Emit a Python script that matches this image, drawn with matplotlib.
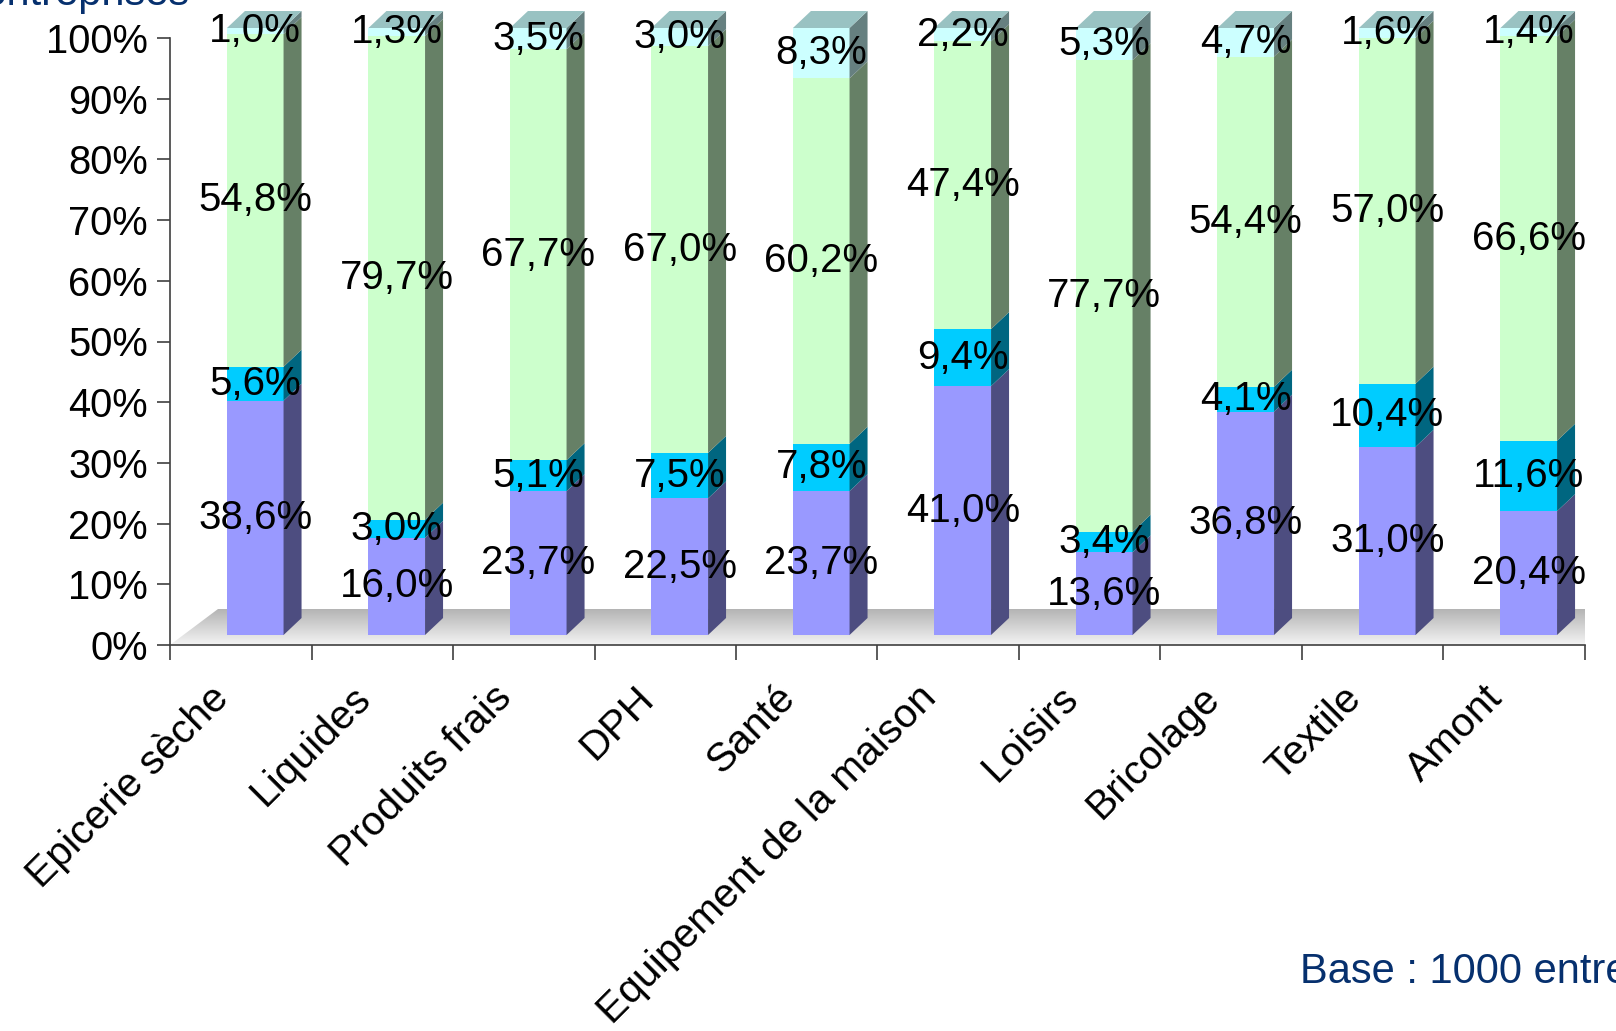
import numpy as np
import matplotlib
matplotlib.use("Agg")
import matplotlib.pyplot as plt
from matplotlib.patches import Polygon
from matplotlib.transforms import ScaledTranslation
from matplotlib.colors import LinearSegmentedColormap

plt.rcParams['font.family'] = ['Liberation Sans', 'DejaVu Sans']

# données (en %), de bas en haut de chaque barre
categories = ['Epicerie sèche', 'Liquides', 'Produits frais', 'DPH', 'Santé',
              'Equipement de la maison', 'Loisirs', 'Bricolage', 'Textile', 'Amont']
serie_1 = [38.6, 16.0, 23.7, 22.5, 23.7, 41.0, 13.6, 36.8, 31.0, 20.4]
serie_2 = [5.6, 3.0, 5.1, 7.5, 7.8, 9.4, 3.4, 4.1, 10.4, 11.6]
serie_3 = [54.8, 79.7, 67.7, 67.0, 60.2, 47.4, 77.7, 54.4, 57.0, 66.6]
serie_4 = [1.0, 1.3, 3.5, 3.0, 8.3, 2.2, 5.3, 4.7, 1.6, 1.4]
yticks = list(range(0, 101, 10))
ytick_labels = ['%d%%' % v for v in yticks]

front = ['#9999ff', '#00ccff', '#ccffcc', '#ccffff']
side = ['#4d4d80', '#006680', '#668066', '#668080']
top_col = '#99c2c2'
navy = '#06306e'
axis_col = '#404040'

fig = plt.figure(figsize=(16.16, 10.31), dpi=100)
ax = fig.add_axes([170/1616, 386/1031, 1415/1616, 607/1031])
x = np.arange(len(categories))
ax.set_xlim(-0.5, len(categories) - 0.5)
ax.set_ylim(0, 100)

px = 1/100  # un pixel en pouces
shift = ax.transData + ScaledTranslation(14.5*px, 10*px, fig.dpi_scale_trans)

# unités de données par pixel
ux = (ax.get_xlim()[1] - ax.get_xlim()[0]) / ax.bbox.width
uy = 100 / ax.bbox.height
dx, dy = 18*ux, 17*uy

# sol gris en dégradé
x0, x1 = ax.get_xlim()
fdx, fdy = 48*ux, 36*uy
floor = Polygon([(x0, 0), (x1, 0), (x1 + fdx, fdy), (x0 + fdx, fdy)], closed=True,
                facecolor='none', edgecolor='none', clip_on=False)
ax.add_patch(floor)
grad = np.linspace(0, 1, 200).reshape(-1, 1)
cm = LinearSegmentedColormap.from_list('sol', ['#f4f4f4', '#b4b4b4'])
im = ax.imshow(grad, cmap=cm, extent=(x0, x1 + fdx, 0, fdy), origin='lower',
               aspect='auto', zorder=0.5, interpolation='bilinear')
im.set_clip_path(floor)
im.set_clip_box(None)
ax.set_xlim(x0, x1)
ax.set_ylim(0, 100)

w = 0.40
bottoms = np.zeros(len(x))
series = [serie_1, serie_2, serie_3, serie_4]
for k, vals in enumerate(series):
    vals = np.array(vals)
    ax.bar(x, vals, w, bottom=bottoms, color=front[k], linewidth=0,
           transform=shift, clip_on=False, zorder=3)
    for xi, b, v in zip(x, bottoms, vals):
        xr = xi + w/2
        ax.add_patch(Polygon([(xr, b), (xr + dx, b + dy), (xr + dx, b + v + dy), (xr, b + v)],
                             closed=True, facecolor=side[k], edgecolor='none',
                             transform=shift, clip_on=False, zorder=3))
        ax.text(xi, b + v/2, ('%.1f%%' % v).replace('.', ','), ha='center', va='center',
                fontsize=29, color='black', transform=shift, zorder=5, clip_on=False)
    bottoms += vals

# face supérieure
for xi, t in zip(x, bottoms):
    xl, xr = xi - w/2, xi + w/2
    ax.add_patch(Polygon([(xl, t), (xr, t), (xr + dx, t + dy), (xl + dx, t + dy)],
                         closed=True, facecolor=top_col, edgecolor='none',
                         transform=shift, clip_on=False, zorder=3))

# axes
for s in ['top', 'right']:
    ax.spines[s].set_visible(False)
ax.spines['left'].set_bounds(0, 100)
for s in ['left', 'bottom']:
    ax.spines[s].set_color(axis_col)
    ax.spines[s].set_linewidth(1.2)

ax.set_yticks(yticks, ytick_labels)
ax.tick_params(axis='y', length=13*0.72, width=1.2, color=axis_col, pad=6.5,
               labelsize=28.7, direction='out')
ax.set_xticks([])
ax.set_xticks(np.arange(-0.5, len(categories), 1), minor=True)
ax.tick_params(axis='x', which='minor', length=15*0.72, width=1.2, color=axis_col,
               direction='out')

lab_tr = ax.get_xaxis_transform() + ScaledTranslation(-10*px, -55*px, fig.dpi_scale_trans)
for xi, name in zip(x, categories):
    ax.text(xi, 0, name, rotation=45, rotation_mode='anchor', ha='right', va='baseline',
            fontsize=29.3, transform=lab_tr, clip_on=False)

fig.text(189/1616, (1031 - 5)/1031, "En % d'entreprises", ha='right', va='baseline',
         fontsize=30, color=navy)
fig.text(1300/1616, (1031 - 983)/1031, 'Base : 1000 entreprises', ha='left', va='baseline',
         fontsize=30, color=navy)

fig.savefig('out.png', dpi=100)
